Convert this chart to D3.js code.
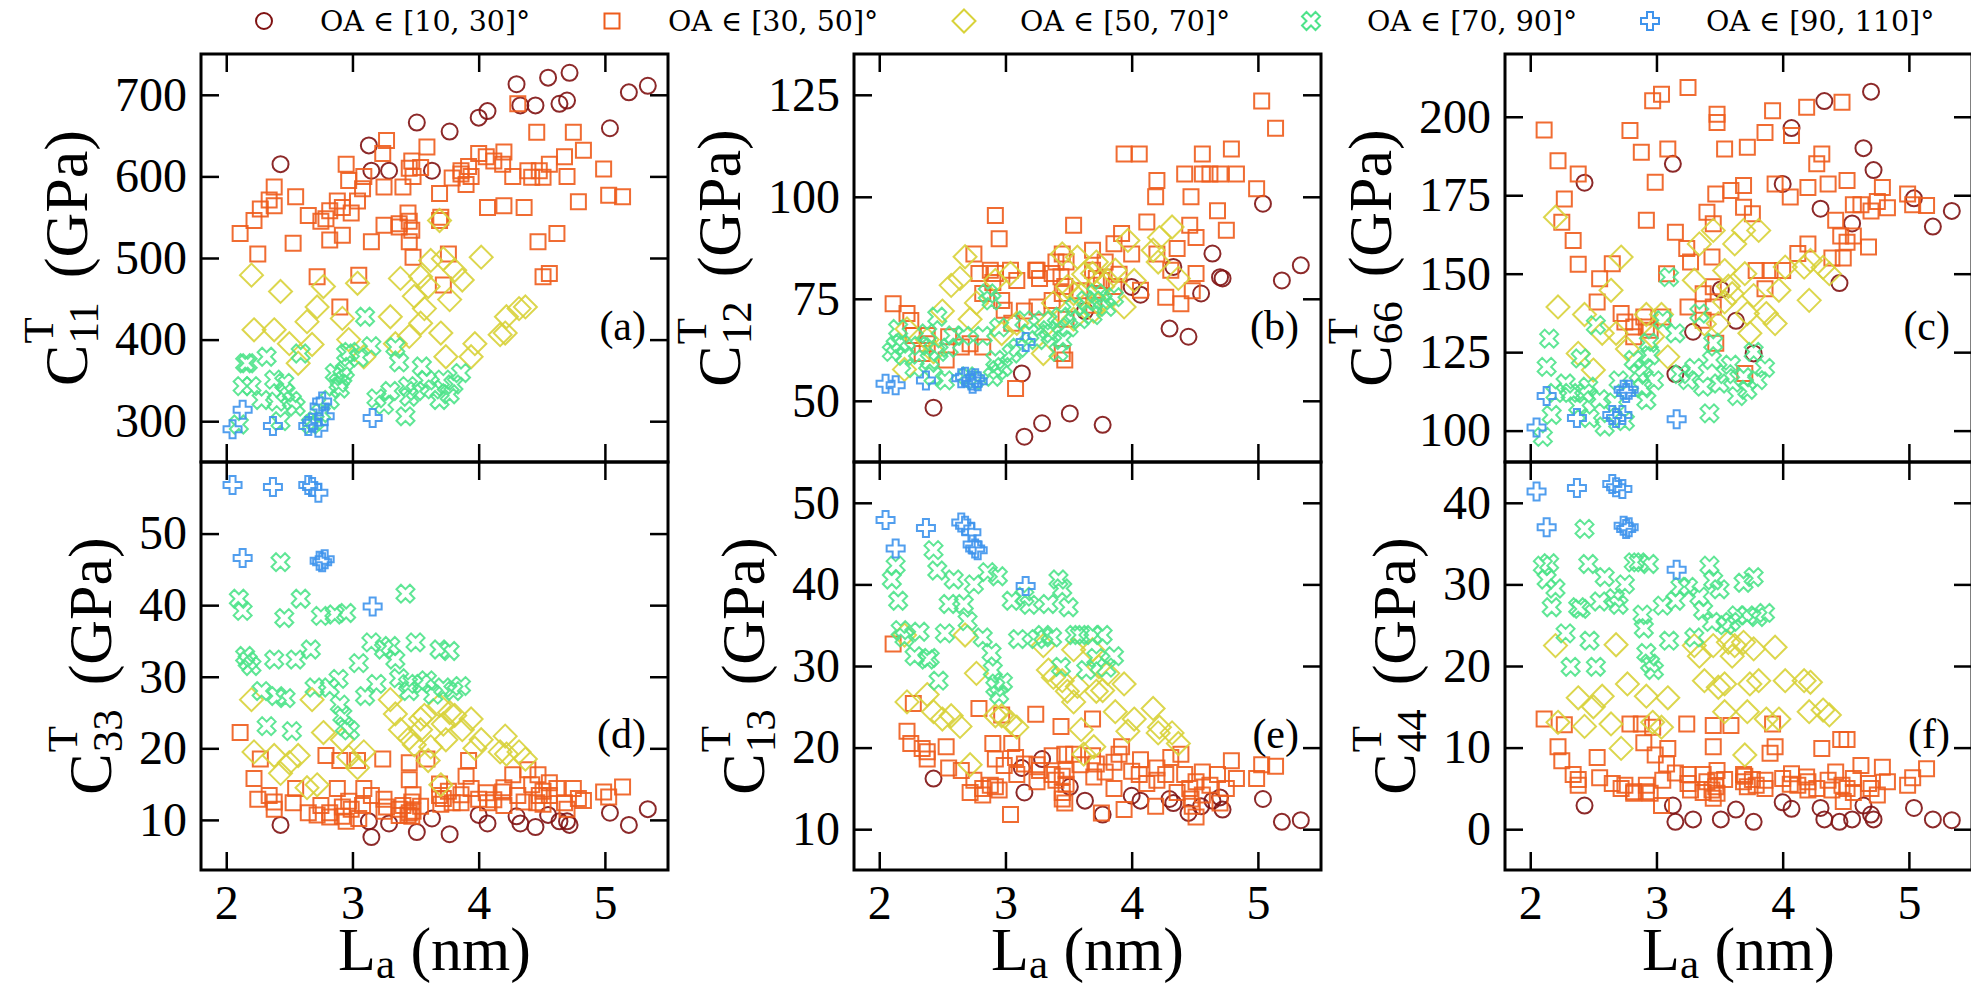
<!DOCTYPE html>
<html>
<head>
<meta charset="utf-8">
<script src="https://cdn.jsdelivr.net/npm/d3@7"></script>
<style>
    body { margin: 0; background: #fff; }
    svg { display: block; }
</style>
</head>
<body>
<div id="chart"></div>
<script>
// crystallite size L_a (nm) of every sample, one array per orientation-angle group
const laOA10 = [2.43, 3.13, 3.15, 3.29, 3.51, 3.63, 3.77, 4.00, 4.07, 4.30, 4.33, 4.45, 4.55, 4.64, 4.70, 4.72, 5.04, 5.19, 5.34]
const laOA30 = [2.11, 2.22, 2.25, 2.27, 2.34, 2.38, 2.38, 2.53, 2.55, 2.65, 2.72, 2.75, 2.79, 2.82, 2.82, 2.88, 2.90, 2.92, 2.92, 2.95,
    2.97, 2.99, 3.04, 3.05, 3.08, 3.09, 3.15, 3.24, 3.25, 3.25, 3.27, 3.37, 3.37, 3.40, 3.44, 3.45, 3.45, 3.45, 3.47, 3.47,
    3.48, 3.48, 3.54, 3.59, 3.69, 3.69, 3.70, 3.72, 3.76, 3.79, 3.86, 3.86, 3.90, 3.92, 3.94, 4.00, 4.06, 4.07, 4.12, 4.19,
    4.20, 4.20, 4.27, 4.31, 4.36, 4.39, 4.42, 4.46, 4.47, 4.48, 4.51, 4.51, 4.56, 4.56, 4.62, 4.68, 4.70, 4.75, 4.79, 4.83,
    4.99, 5.03, 5.14]
const laOA50 = [2.20, 2.22, 2.38, 2.43, 2.50, 2.57, 2.64, 2.68, 2.72, 2.77, 2.92, 2.97, 3.04, 3.09, 3.30, 3.34, 3.38, 3.45, 3.49, 3.54,
    3.54, 3.57, 3.60, 3.62, 3.69, 3.70, 3.72, 3.74, 3.77, 3.81, 3.87, 3.94, 3.97, 4.02, 4.17, 4.21, 4.22, 4.32, 4.37]
const laOA70 = [2.10, 2.13, 2.15, 2.17, 2.20, 2.28, 2.32, 2.38, 2.40, 2.43, 2.46, 2.47, 2.52, 2.55, 2.59, 2.67, 2.70, 2.75, 2.82, 2.86,
    2.89, 2.90, 2.92, 2.94, 2.95, 2.98, 3.05, 3.10, 3.15, 3.19, 3.25, 3.30, 3.34, 3.37, 3.42, 3.44, 3.45, 3.50, 3.55, 3.59,
    3.64, 3.69, 3.72, 3.77, 3.80, 3.86]
const laOA90 = [2.05, 2.13, 2.37, 2.65, 2.68, 2.73, 2.74, 2.76, 2.78, 3.16]

// C11 (GPa)
const c11_oa10 = [615, 638, 607, 607, 666, 607, 655, 672, 680, 713, 687, 687, 721, 689, 693, 727, 659, 703, 711]
const c11_oa30 = [530, 546, 505, 560, 571, 587, 564, 518, 575, 552, 477, 545, 548, 558, 522, 570, 440, 528, 562, 615,
    595, 555, 570, 479, 585, 600, 520, 628, 540, 587, 644, 538, 542, 587, 555, 520, 610, 545, 619, 534,
    501, 600, 611, 636, 579, 546, 550, 467, 505, 598, 603, 607, 590, 612, 600, 628, 624, 562, 619, 615,
    564, 630, 600, 689, 562, 607, 599, 654, 520, 607, 477, 599, 481, 615, 530, 624, 600, 654, 569, 632,
    609, 577, 575]
const c11_oa50 = [479, 412, 412, 459, 395, 371, 422, 394, 440, 465, 426, 400, 469, 379, 428, 395, 475, 404, 453, 477,
    420, 438, 465, 497, 546, 408, 499, 379, 449, 485, 473, 379, 395, 501, 406, 408, 428, 438, 440]
const c11_oa70 = [296, 343, 371, 371, 343, 326, 379, 351, 324, 300, 347, 335, 325, 318, 383, 296, 300, 310, 326, 359,
    347, 340, 355, 362, 383, 385, 378, 428, 392, 328, 320, 337, 391, 372, 306, 343, 330, 337, 367, 350,
    339, 326, 351, 333, 345, 359]
const c11_oa90 = [290, 314, 294, 294, 298, 292, 318, 324, 306, 304]

// C12 (GPa)
const c12_oa10 = [48.3, 56.7, 41.2, 44.5, 46.9, 72.0, 44.1, 77.9, 76.0, 67.7, 82.8, 65.7, 76.3, 86.1, 80.3, 80.0, 98.3, 79.5, 83.2]
const c12_oa30 = [73.8, 71.4, 69.7, 66, 61.6, 64, 66, 60, 65.7, 63.2, 64, 86, 81.2, 76.3, 63.2, 82, 79, 95.4, 81.2, 89.7,
    74.6, 72.2, 82, 69, 53, 79.5, 72, 82, 73, 82, 80, 81.2, 74.6, 84, 80.4, 61.6, 86, 76.3, 60, 78,
    84, 70, 93, 77, 86.9, 82, 73.4, 80, 79.5, 84, 88.5, 78, 81, 91, 110.5, 86, 110.5, 77.1, 93.8, 100,
    104, 86, 75.4, 82, 87.3, 73.8, 105.6, 93, 100, 77, 81.2, 90, 110.5, 105.6, 105.6, 96.6, 105.6, 91.8, 111.7, 105.6,
    102, 123.5, 116.8]
const c12_oa50 = [57.7, 67.6, 65, 62, 72, 78.3, 80, 85.3, 70, 74, 79.5, 66.5, 81.2, 69, 61.6, 69, 74, 86, 78, 76.3,
    70, 85.2, 76, 81, 81.2, 72, 84, 73.8, 78, 79.5, 82, 73, 89.3, 79.5, 86.9, 84, 90, 92.6, 80]
const c12_oa70 = [62, 63.5, 67.6, 64, 61, 58, 63.5, 66.5, 60, 56, 70.6, 62, 55, 63, 66, 65.9, 56, 55, 65.9, 76.3,
    74.6, 55.9, 60, 57.5, 68, 58.3, 61.6, 63, 69.7, 66.5, 64.9, 69.7, 67.3, 66.5, 62, 70.6, 64.9, 68, 73, 70,
    74.6, 71, 76.3, 74.6, 73, 75.4]
const c12_oa90 = [54.2, 53.8, 55.0, 55.5, 55.9, 55.0, 54.2, 55.5, 54.8, 64.4]

// C66 (GPa)
const c66_oa10 = [179, 185, 118, 131.5, 145, 135, 124.6, 178.6, 196.4, 170.7, 205, 147, 166, 190, 208, 183, 174, 165, 170]
const c66_oa30 = [195.8, 186, 166.4, 173.8, 160.6, 181.8, 153, 141, 148.4, 153.2, 137.3, 134.6, 195.6, 133, 129.9, 188.7, 136.2, 167, 133, 132,
    205.1, 179.1, 207.2, 136.2, 150, 189.7, 163.2, 158, 209.3, 139.4, 153.7, 135.2, 143.6, 169.6, 155.3, 165.9, 145.8, 139.4, 127.8, 175.4,
    200.8, 198.2, 189.7, 176.5, 178.1, 171.2, 118.2, 190.3, 169.1, 151, 195, 145.2, 151, 201.9, 178.6, 151, 174.4, 194, 156.4, 203,
    159.5, 177.5, 185, 188.1, 178.6, 155, 167, 162, 204.6, 155, 179.7, 160, 172, 162, 172, 158.5, 170, 173, 177.5, 171,
    175.4, 172, 171.7]
const c66_oa50 = [168, 139.4, 124.6, 137, 119.3, 131, 144.7, 131, 155.3, 126, 137, 130, 137, 123.5, 147.9, 159.5, 134, 163.8, 134.1, 151,
    141, 146, 143.6, 159.5, 163.8, 150, 137.3, 131, 143, 163.8, 137.3, 134.1, 144.7, 152.1, 152.1, 141.5, 154.2, 152, 150]
const c66_oa70 = [98, 120.3, 129.3, 105, 112, 115, 112, 108, 123, 111.9, 114, 104, 133.6, 110, 101.3, 109, 116, 103, 122.5, 118.2,
    113.5, 120, 109.7, 128, 124, 116, 135.2, 148.9, 131, 118, 116.1, 120, 137.3, 114, 105.5, 122.5, 128, 115, 118, 121,
    111, 117, 113, 125.1, 116.1, 120]
const c66_oa90 = [101, 111, 104, 105, 104, 105, 113, 112, 113, 103.6]

// C33 (GPa)
const c33_oa10 = [9.3, 9.8, 7.6, 9.5, 8.3, 10.2, 8.0, 10.7, 9.5, 10.5, 9.5, 9.0, 10.7, 9.8, 9.8, 9.3, 11.0, 9.3, 11.5]
const c33_oa30 = [22.2, 15.8, 12.9, 18.5, 13.4, 11.5, 12.5, 12.4, 14.4, 11.0, 10.7, 12.0, 19.0, 11.0, 10.4, 14.4, 18.3, 10.5, 11.8, 9.8,
    12.6, 11.5, 18.3, 10.2, 12.0, 14.4, 13.4, 18.5, 11.2, 12.9, 11.8, 11.5, 10.6, 12.0, 10.7, 11.0, 18.0, 15.6, 10.5, 12.5,
    11.2, 13.5, 11.9, 18.5, 13.4, 15.0, 12.2, 13.0, 14.0, 12.4, 12.4, 13.5, 16.1, 18.3, 14.4, 12.9, 13.8, 12.4, 12.8, 13.9,
    12.0, 14.5, 16.3, 13.4, 12.5, 17.0, 14.9, 12.4, 16.3, 13.4, 14.0, 12.2, 15.2, 13.4, 14.4, 12.4, 11.5, 14.4, 13.0, 12.7,
    13.9, 13.2, 14.6]
const c33_oa50 = [26.8, 19.5, 19.0, 16.5, 18.0, 19.0, 14.5, 26.8, 14.9, 22.2, 21.2, 18.8, 17.3, 19.5, 26.8, 24.8, 22.6, 21.4, 20.5, 24.1,
    22.6, 24.6, 18.3, 20.2, 26.0, 14.9, 23.4, 21.2, 25.0, 24.6, 22.6, 24.1, 20.0, 21.2, 19.5, 21.7, 19.2, 19.5, 18.5]
const c33_oa70 = [40.9, 39.2, 32.9, 32.2, 31.5, 28.0, 23.1, 32.4, 27.3, 46.0, 38.2, 27.0, 22.4, 32.4, 40.9, 33.8, 28.5, 38.5, 28.5, 38.7,
    29.7, 26.1, 24.6, 23.1, 38.9, 22.5, 31.9, 27.3, 34.8, 29.0, 33.8, 34.3, 32.4, 29.8, 41.6, 29.0, 28.0, 34.8, 29.0, 29.5,
    27.5, 33.8, 28.5, 33.6, 28.0, 28.7]
const c33_oa90 = [56.8, 46.6, 56.5, 56.8, 56.5, 55.7, 46.2, 46.0, 46.4, 39.8]

// C13 (GPa)
const c13_oa10 = [16.2, 17.5, 14.5, 18.6, 15.2, 13.5, 11.8, 14.1, 13.5, 13.7, 13.2, 12.0, 12.8, 13.5, 13.9, 12.4, 13.7, 10.9, 11.1]
const c13_oa30 = [32.7, 22.0, 20.5, 25.4, 19.9, 18.6, 19.5, 20.1, 17.5, 17.2, 14.5, 16.0, 24.8, 15.0, 14.2, 15.4, 20.5, 18.6, 15.2, 14.8,
    24.0, 17.8, 11.8, 20.5, 18.8, 16.7, 18.0, 24.1, 17.9, 15.8, 17.2, 16.7, 19.0, 16.0, 22.6, 14.5, 13.7, 16.5, 19.2, 13.2,
    15.5, 17.2, 19.2, 17.9, 23.5, 19.0, 16.4, 18.0, 12.0, 17.0, 18.2, 15.0, 19.2, 20.1, 12.4, 17.1, 16.7, 18.5, 15.6, 12.8,
    16.0, 17.5, 16.7, 18.8, 14.5, 19.2, 16.7, 15.0, 13.7, 12.8, 11.5, 15.8, 17.0, 14.2, 15.4, 16.7, 13.2, 15.0, 18.4, 16.2,
    16.2, 17.9, 17.7]
const c13_oa50 = [33.8, 25.6, 26.5, 24.4, 23.5, 23.9, 22.6, 33.8, 17.9, 29.1, 23.9, 23.9, 23.1, 22.5, 32.5, 29.5, 28.6, 28.2, 26.9, 25.6,
    32.0, 27.5, 22.2, 19.2, 32.0, 20.1, 26.9, 29.9, 27.0, 29.1, 24.4, 27.8, 22.0, 23.5, 24.8, 21.8, 22.5, 21.8, 20.5]
const c13_oa70 = [40.6, 42.3, 38.0, 34.4, 33.5, 31.2, 34.2, 30.8, 31.0, 44.2, 41.7, 28.2, 34.0, 37.6, 40.6, 37.6, 35.5, 40.0, 33.5, 41.5,
    31.6, 29.5, 27.4, 41.0, 26.5, 28.0, 38.0, 33.3, 38.5, 37.5, 33.3, 33.8, 37.6, 33.5, 40.6, 29.9, 39.5, 37.2, 33.8, 33.8,
    29.5, 33.8, 31.0, 33.8, 29.8, 31.2]
const c13_oa90 = [47.9, 44.4, 46.9, 47.6, 47.2, 46.4, 44.9, 44.4, 44.2, 39.8]

// C44 (GPa)
const c44_oa10 = [2.9, 2.9, 0.9, 1.2, 1.2, 2.4, 0.9, 3.3, 2.5, 2.6, 1.2, 0.9, 1.2, 2.9, 1.8, 1.2, 2.6, 1.2, 1.1]
const c44_oa30 = [13.5, 10.1, 8.4, 12.8, 6.7, 5.4, 6.1, 8.8, 6.3, 5.6, 5.0, 5.4, 12.9, 4.6, 4.4, 12.9, 10.6, 4.6, 5.4, 4.4,
    12.5, 9.1, 2.9, 6.0, 8.0, 9.9, 6.9, 12.9, 6.7, 5.6, 4.8, 6.7, 4.5, 5.8, 4.8, 3.8, 12.7, 10.1, 6.0, 5.2,
    7.2, 4.4, 6.1, 12.7, 6.7, 5.8, 6.5, 5.2, 6.1, 5.4, 6.0, 5.0, 9.3, 12.9, 10.1, 6.2, 5.5, 6.8, 5.4, 6.4,
    4.8, 5.8, 5.0, 9.9, 6.0, 4.8, 7.0, 11.0, 5.4, 3.4, 11.0, 5.0, 6.2, 4.5, 7.8, 5.6, 5.0, 4.2, 7.6, 5.8,
    5.4, 6.3, 7.4]
const c44_oa50 = [22.5, 13.1, 16.1, 12.6, 15.0, 16.3, 12.9, 22.6, 9.9, 17.8, 16.3, 13.1, 12.5, 16.1, 22.5, 21.2, 18.2, 22.5, 17.4, 17.8,
    14.4, 22.9, 21.2, 22.5, 22.9, 9.1, 14.4, 17.8, 22.1, 18.2, 13.5, 22.3, 13.5, 18.2, 18.2, 14.4, 18.0, 14.6, 14.0]
const c44_oa70 = [32.3, 30.6, 32.6, 27.2, 29.5, 24.0, 19.9, 27.2, 27.0, 36.8, 32.5, 23.1, 19.9, 27.9, 30.9, 28.3, 27.5, 30.0, 32.7, 32.7,
    26.3, 24.6, 21.6, 32.5, 20.3, 19.5, 27.4, 23.1, 28.0, 29.7, 29.7, 23.5, 28.5, 26.8, 32.3, 25.4, 30.5, 29.4, 25.0, 25.4,
    26.2, 30.2, 26.2, 30.9, 26.0, 26.5]
const c44_oa90 = [41.4, 37.0, 41.8, 42.3, 41.9, 41.7, 37.2, 36.8, 37.0, 31.8]

// tick values
const xTicks = [2, 3, 4, 5]
const ticksC11 = [300, 400, 500, 600, 700]
const ticksC12 = [50, 75, 100, 125]
const ticksC66 = [100, 125, 150, 175, 200]
const ticksC33 = [10, 20, 30, 40, 50]
const ticksC13 = [10, 20, 30, 40, 50]
const ticksC44 = [0, 10, 20, 30, 40]

const groups = [
    { label: 'OA ∈ [10, 30]°', shape: 'circle', color: '#7f1212', la: laOA10 },
    { label: 'OA ∈ [30, 50]°', shape: 'square', color: '#ee5c1c', la: laOA30 },
    { label: 'OA ∈ [50, 70]°', shape: 'diamond', color: '#d8d23a', la: laOA50 },
    { label: 'OA ∈ [70, 90]°', shape: 'cross', color: '#4ee38a', la: laOA70 },
    { label: 'OA ∈ [90, 110]°', shape: 'plus', color: '#3e93ec', la: laOA90 },
]

const panels = [
    { tag: '(a)', sub: '11', col: 0, row: 0, domain: [250, 750], ticks: ticksC11,
        series: [c11_oa10, c11_oa30, c11_oa50, c11_oa70, c11_oa90] },
    { tag: '(b)', sub: '12', col: 1, row: 0, domain: [35, 135], ticks: ticksC12,
        series: [c12_oa10, c12_oa30, c12_oa50, c12_oa70, c12_oa90] },
    { tag: '(c)', sub: '66', col: 2, row: 0, domain: [90, 220], ticks: ticksC66,
        series: [c66_oa10, c66_oa30, c66_oa50, c66_oa70, c66_oa90] },
    { tag: '(d)', sub: '33', col: 0, row: 1, domain: [3, 60], ticks: ticksC33,
        series: [c33_oa10, c33_oa30, c33_oa50, c33_oa70, c33_oa90] },
    { tag: '(e)', sub: '13', col: 1, row: 1, domain: [5, 55], ticks: ticksC13,
        series: [c13_oa10, c13_oa30, c13_oa50, c13_oa70, c13_oa90] },
    { tag: '(f)', sub: '44', col: 2, row: 1, domain: [-5, 45], ticks: ticksC44,
        series: [c44_oa10, c44_oa30, c44_oa50, c44_oa70, c44_oa90] },
]

// first installed Times-like face, checked against a monospace baseline
function pickFont(names, generic) {
    const ctx = document.createElement('canvas').getContext('2d')
    const probe = 'mwilMWIL0123456789(GPa)'
    ctx.font = '40px monospace'
    const base = ctx.measureText(probe).width
    for (const n of names) {
        ctx.font = `40px "${n}", monospace`
        if (Math.abs(ctx.measureText(probe).width - base) > 0.5) return `"${n}", ${generic}`
    }
    return generic
}
const serif = pickFont(['Liberation Serif', 'Times New Roman', 'Tinos', 'Nimbus Roman', 'DejaVu Serif'], 'serif')
const legendFont = pickFont(['DejaVu Serif', 'Liberation Serif'], 'serif')

const width = 1971
const height = 988
const box = { left: [201, 854, 1505], top: [54, 462], w: 467, h: 408 }
const tickLen = 18

// matplotlib-like filled 'X' and 'P' outlines
const xPts = [[-1, -2], [0, -1], [1, -2], [2, -1], [1, 0], [2, 1], [1, 2], [0, 1], [-1, 2], [-2, 1], [-1, 0], [-2, -1]]
const plusPts = [[-1, -3], [1, -3], [1, -1], [3, -1], [3, 1], [1, 1], [1, 3], [-1, 3], [-1, 1], [-3, 1], [-3, -1], [-1, -1]]
const poly = (pts, k) => 'M' + pts.map(p => (p[0] * k) + ',' + (p[1] * k)).join('L') + 'Z'
const shapes = {
    circle: 'M8,0A8,8 0 1,1 -8,0A8,8 0 1,1 8,0Z',
    square: 'M-7.5,-7.5H7.5V7.5H-7.5Z',
    diamond: 'M0,-11.5L11.5,0L0,11.5L-11.5,0Z',
    cross: poly(xPts, 4.5),
    plus: poly(plusPts, 3),
}

const svg = d3.select('#chart').append('svg')
    .attr('width', width)
    .attr('height', height)

svg.append('rect')
    .attr('width', width)
    .attr('height', height)
    .attr('fill', '#fff')

const x = d3.scaleLinear().domain([1.8, 5.5]).range([0, box.w])

function styleAxis(sel) {
    sel.select('.domain').remove()
    sel.attr('font-family', null).attr('font-size', null)
        .style('font-family', serif).style('font-size', '48px')
    sel.selectAll('line').attr('stroke', '#000').attr('stroke-width', 2.5)
    sel.selectAll('text').attr('fill', '#000')
}

function yLabel(g, sub, bx, cy) {
    const lab = g.append('g')
        .attr('transform', `translate(${bx},${cy}) rotate(-90)`)
        .style('font-family', serif)
        .attr('fill', '#000')
    const inner = lab.append('g')
    const c = inner.append('text').style('font-size', '62px').text('C')
    const wc = c.node().getComputedTextLength()
    const sup = inner.append('text').attr('x', wc + 1).attr('y', -34).style('font-size', '43px').text('T')
    const low = inner.append('text').attr('x', wc + 1).attr('y', 11).style('font-size', '43px').text(sub)
    const ws = Math.max(sup.node().getComputedTextLength(), low.node().getComputedTextLength())
    const rest = inner.append('text').attr('x', wc + 1 + ws + 24).style('font-size', '62px').text('(GPa)')
    const total = wc + 1 + ws + 24 + rest.node().getComputedTextLength()
    inner.attr('transform', `translate(${-total / 2},0)`)
}

panels.forEach(p => {
    const y = d3.scaleLinear().domain(p.domain).range([box.h, 0])
    const g = svg.append('g')
        .attr('transform', `translate(${box.left[p.col]},${box.top[p.row]})`)

    // scatter markers, one layer per orientation group
    groups.forEach((grp, i) => {
        const vals = p.series[i]
        g.append('g')
            .selectAll('path')
            .data(grp.la.map((la, j) => ({ la, v: vals[j] })))
            .join('path')
            .attr('d', shapes[grp.shape])
            .attr('transform', d => `translate(${x(d.la)},${y(d.v)})`)
            .attr('fill', 'none')
            .attr('stroke', grp.color)
            .attr('stroke-opacity', 0.9)
            .attr('stroke-width', 2)
    })

    // inward ticks on all four sides
    const left = g.append('g')
        .call(d3.axisLeft(y).tickValues(p.ticks).tickSize(-tickLen).tickSizeOuter(0).tickPadding(14))
    styleAxis(left)

    g.append('g')
        .attr('transform', `translate(${box.w},0)`)
        .call(d3.axisRight(y).tickValues(p.ticks).tickSize(-tickLen).tickSizeOuter(0).tickFormat(() => ''))
        .call(styleAxis)

    g.append('g')
        .call(d3.axisTop(x).tickValues(xTicks).tickSize(-tickLen).tickSizeOuter(0).tickFormat(() => ''))
        .call(styleAxis)

    const bottom = d3.axisBottom(x).tickValues(xTicks).tickSize(-tickLen).tickSizeOuter(0)
        .tickPadding(15).tickFormat(d3.format('d'))
    if (p.row === 0) bottom.tickFormat(() => '')
    g.append('g')
        .attr('transform', `translate(0,${box.h})`)
        .call(bottom)
        .call(styleAxis)

    g.append('rect')
        .attr('width', box.w)
        .attr('height', box.h)
        .attr('fill', 'none')
        .attr('stroke', '#000')
        .attr('stroke-width', 3)

    g.append('text')
        .attr('x', box.w - 22)
        .attr('y', box.h * 0.70)
        .attr('text-anchor', 'end')
        .style('font-family', serif)
        .style('font-size', '42px')
        .text(p.tag)

    // y label sits left of the widest tick label
    let minX = 0
    left.selectAll('text').each(function () {
        const b = this.getBBox()
        minX = Math.min(minX, b.x)
    })
    yLabel(g, p.sub, minX - 28, box.h / 2)

    if (p.row === 1) {
        const xl = g.append('text')
            .attr('x', box.w / 2)
            .attr('y', box.h + 100)
            .attr('text-anchor', 'middle')
            .style('font-family', serif)
            .style('font-size', '62px')
        xl.append('tspan').text('L')
        xl.append('tspan').style('font-size', '43px').attr('dy', 8).text('a')
        xl.append('tspan').attr('dy', -8).text(' (nm)')
    }
})

// legend across the top
const legendX = [264, 612, 964, 1311, 1650]
const legend = svg.append('g').attr('transform', 'translate(0,21)')
groups.forEach((grp, i) => {
    legend.append('path')
        .attr('d', shapes[grp.shape])
        .attr('transform', `translate(${legendX[i]},0)`)
        .attr('fill', 'none')
        .attr('stroke', grp.color)
        .attr('stroke-width', 2)
    legend.append('text')
        .attr('x', legendX[i] + 56)
        .attr('dy', '0.35em')
        .style('font-family', legendFont)
        .style('font-size', '28.5px')
        .text(grp.label)
})
</script>
</body>
</html>
